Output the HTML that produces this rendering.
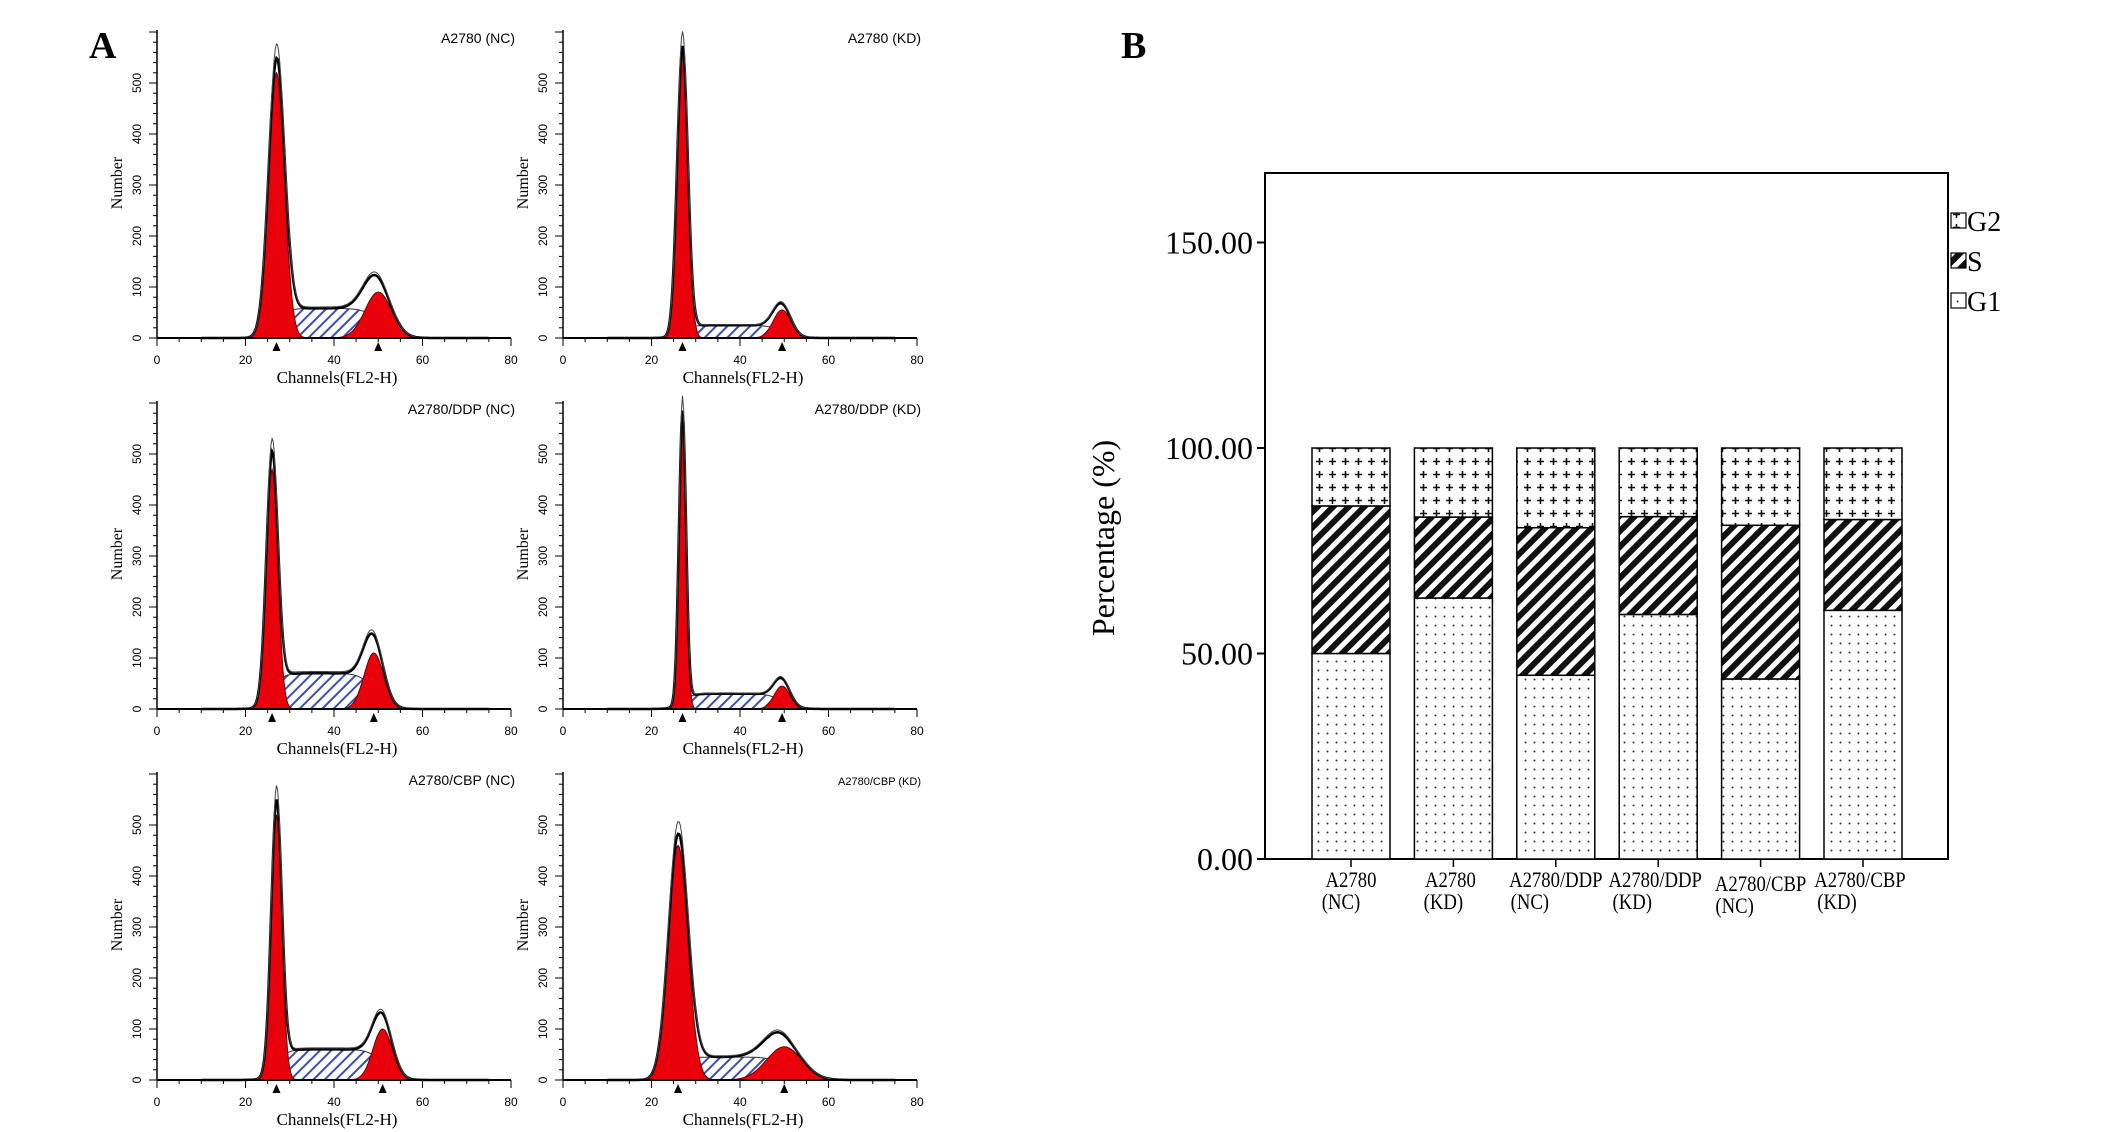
<!DOCTYPE html>
<html><head><meta charset="utf-8"><style>
html,body{margin:0;padding:0;background:#fff;}
svg{display:block;font-family:"Liberation Serif",serif;}
</style></head><body>
<svg id="fig" width="2126" height="1132" viewBox="0 0 2126 1132" xmlns="http://www.w3.org/2000/svg">
<defs>
<pattern id="dots" width="9" height="9" patternUnits="userSpaceOnUse"><rect width="9" height="9" fill="#fff"/><circle cx="4.5" cy="4.5" r="1" fill="#333"/></pattern>
<pattern id="stripes" width="11" height="11" patternUnits="userSpaceOnUse" patternTransform="rotate(45)"><rect width="11" height="11" fill="#fff"/><rect x="0" y="0" width="6" height="11" fill="#111"/></pattern>
<pattern id="plus" width="13" height="13" patternUnits="userSpaceOnUse"><rect width="13" height="13" fill="#fff"/><path d="M6.5 3v7M3 6.5h7" stroke="#111" stroke-width="1.6"/></pattern>
<pattern id="bluehatch" width="8" height="8" patternUnits="userSpaceOnUse" patternTransform="rotate(45)"><rect width="8" height="8" fill="#fff"/><rect width="2" height="8" fill="#3a4fb0"/></pattern>
</defs>
<text x="89" y="58" font-size="38" font-weight="bold">A</text>
<text x="1121" y="58" font-size="38" font-weight="bold">B</text>
<g id="histos"></g>
<g id="bars"></g>
</svg>
<script>
// ---------- Panel A: histogram model parameters ----------
const histTitles = ["A2780 (NC)","A2780 (KD)","A2780/DDP (NC)","A2780/DDP (KD)","A2780/CBP (NC)","A2780/CBP (KD)"];
const g1Peak = [27,27,26,27,27,26];
const g1Height = [520,560,470,570,520,460];
const g1Sd = [1.8,1.2,1.3,0.8,1.2,2.2];
const sLevel = [58,25,70,30,60,45];
const g2Peak = [50,49.5,49,49.5,51,50];
const g2Height = [90,55,110,45,100,65];
const g2Sd = [3,2,2.2,1.8,2.2,4];
const xTicks = [0,20,40,60,80];
const yTicks = [0,100,200,300,400,500];

// ---------- Panel B data ----------
const categories = [["A2780","(NC)"],["A2780","(KD)"],["A2780/DDP","(NC)"],["A2780/DDP","(KD)"],["A2780/CBP","(NC)"],["A2780/CBP","(KD)"]];
const g1Values = [50.0,63.5,44.7,59.5,43.8,60.5];
const sValues = [35.9,19.7,35.9,23.8,37.4,22.1];
const g2Values = [14.1,16.8,19.4,16.7,18.8,17.4];
const percentTicks = [0,50,100,150];
const legendLabels = ["G2","S","G1"];

const NS="http://www.w3.org/2000/svg";
function mk(tag,attrs,parent,txt){const e=document.createElementNS(NS,tag);for(const k in attrs)e.setAttribute(k,attrs[k]);if(txt!==undefined)e.textContent=txt;parent.appendChild(e);return e;}

// ---------- draw histograms ----------
const hg=document.getElementById('histos');
const colX=[157,563], rowY=[338,709,1080];
const pxPerCh=354/80, pxPerCount=0.51;
function gauss(x,m,s){return Math.exp(-0.5*((x-m)/s)**2);}
function sig(x){return 1/(1+Math.exp(-x));}
for(let p=0;p<6;p++){
  const ax=colX[p%2], ay=rowY[Math.floor(p/2)];
  const X=c=>ax+c*pxPerCh, Y=v=>ay-v*pxPerCount;
  const g=mk('g',{},hg);
  
  
  const g1=c=>g1Height[p]*gauss(c,g1Peak[p],g1Sd[p]);
  const g2=c=>g2Height[p]*gauss(c,g2Peak[p],g2Sd[p]);
  const sf=c=>sLevel[p]*sig((c-g1Peak[p])/1.2)*sig((g2Peak[p]-c)/1.5);
  const cs=[];for(let c=10;c<=75;c+=0.25)cs.push(c);
  let d='M'+X(cs[0])+' '+ay;cs.forEach(c=>d+=' L'+X(c).toFixed(1)+' '+Y(sf(c)).toFixed(1));d+=' L'+X(75)+' '+ay+'Z';
  const sp=mk('path',{d:d,fill:'url(#bluehatch)',stroke:'#333','stroke-width':1},g);
  
  [[g1,'g1-peak'],[g2,'g2-peak']].forEach(([f,n])=>{
    let d2='M'+X(cs[0])+' '+ay;cs.forEach(c=>d2+=' L'+X(c).toFixed(1)+' '+Y(f(c)).toFixed(1));d2+=' L'+X(75)+' '+ay+'Z';
    const e=mk('path',{d:d2,fill:'#e8000b',stroke:'#600','stroke-width':1},g);
    
  });
  let d3='';cs.forEach((c,i)=>d3+=(i?' L':'M')+X(c).toFixed(1)+' '+Y(g1(c)+g2(c)+sf(c)).toFixed(1));
  const tl=mk('path',{d:d3,fill:'none',stroke:'#000','stroke-width':2.5},g);
  
  let d4='';cs.forEach((c,i)=>d4+=(i?' L':'M')+X(c).toFixed(1)+' '+Y((g1(c)+g2(c)+sf(c))*1.05).toFixed(1));
  const rl=mk('path',{d:d4,fill:'none',stroke:'#444','stroke-width':1},g);
  
  mk('line',{x1:ax,y1:ay,x2:X(80),y2:ay,stroke:'#000','stroke-width':2},g);
  mk('line',{x1:ax,y1:ay,x2:ax,y2:ay-308,stroke:'#000','stroke-width':1.5},g);
  for(let v=0;v<=600;v+=20){mk('line',{x1:ax-(v%100?4:8),y1:Y(v),x2:ax,y2:Y(v),stroke:'#000','stroke-width':1},g);}
  for(let c=0;c<=80;c+=5){mk('line',{x1:X(c),y1:ay,x2:X(c),y2:ay+(c%20?4:8),stroke:'#000','stroke-width':1},g);}
  yTicks.forEach(v=>{const t=mk('text',{x:0,y:0,'font-size':12,'font-family':'Liberation Sans, sans-serif','text-anchor':'middle',transform:`translate(${ax-16},${Y(v)}) rotate(-90)`},g,String(v));});
  xTicks.forEach(v=>{const t=mk('text',{x:X(v),y:ay+26,'font-size':12,'font-family':'Liberation Sans, sans-serif','text-anchor':'middle'},g,String(v));});
  [g1Peak[p],g2Peak[p]].forEach(c=>{const tr=mk('path',{d:`M${X(c)-4} ${ay+13} L${X(c)+4} ${ay+13} L${X(c)} ${ay+4}Z`,fill:'#000'},g);});
  const xl=mk('text',{x:ax+180,y:ay+45,'font-size':17,'text-anchor':'middle'},g,'Channels(FL2-H)');
  const yl=mk('text',{x:0,y:0,'font-size':16,'text-anchor':'middle',transform:`translate(${ax-35},${ay-155}) rotate(-90)`},g,'Number');
  const tt=mk('text',{x:ax+358,y:ay-295,'font-size':p===5?11:14,'font-family':'Liberation Sans, sans-serif','text-anchor':'end'},g,histTitles[p]);
}

// ---------- draw stacked bars ----------
const bg=document.getElementById('bars');
const L=1265,R=1948,T=173,B=859;
const yS=v=>B-v*(B-448)/100;
const xc=i=>1351+i*102.4, bw=78;
const frame=mk('rect',{x:L,y:T,width:R-L,height:B-T,fill:'none',stroke:'#000','stroke-width':2},bg);

percentTicks.forEach(v=>{
  mk('line',{x1:L-8,y1:yS(v),x2:L,y2:yS(v),stroke:'#000','stroke-width':2},bg);
  const t=mk('text',{x:L-12,y:yS(v)+11,'font-size':32,'text-anchor':'end'},bg,v.toFixed(2));
  
});
const yt=mk('text',{x:0,y:0,'font-size':32,'text-anchor':'middle',transform:`translate(1114,538) rotate(-90)`},bg,'Percentage (%)');

categories.forEach((c,i)=>{
  let base=0;
  [[g1Values,'url(#dots)','g1'],[sValues,'url(#stripes)','s'],[g2Values,'url(#plus)','g2']].forEach(([arr,fill,n])=>{
    const v=arr[i];
    const r=mk('rect',{x:xc(i)-bw/2,y:yS(base+v),width:bw,height:yS(base)-yS(base+v),fill:fill,stroke:'#000','stroke-width':1.5},bg);
    
    
    base+=v;
  });
  mk('line',{x1:xc(i),y1:B,x2:xc(i),y2:B+8,stroke:'#000','stroke-width':1.5},bg);
  const lx=xc(i)-(i%2?3:0), ly=B+28+(i===4?4:0);
  const t1=mk('text',{x:0,y:0,'font-size':22,'text-anchor':'middle',transform:`translate(${lx},${ly}) scale(0.85,1)`},bg,c[0]);
  
  const sx=xc(i)-(c[0].length>5?26:10);
  const t2=mk('text',{x:0,y:0,'font-size':22,'text-anchor':'middle',transform:`translate(${sx},${ly+22}) scale(0.85,1)`},bg,c[1]);
  
});
const legFills=['url(#plus)','url(#stripes)','url(#dots)'];
legendLabels.forEach((lab,i)=>{
  const y=222+i*40;
  const r=mk('rect',{x:1951,y:y-9,width:15,height:15,fill:legFills[i],stroke:'#000','stroke-width':1.2},bg);
  
  const t=mk('text',{x:1967,y:y+9,'font-size':28},bg,lab);
  
});
</script>
</body></html>
